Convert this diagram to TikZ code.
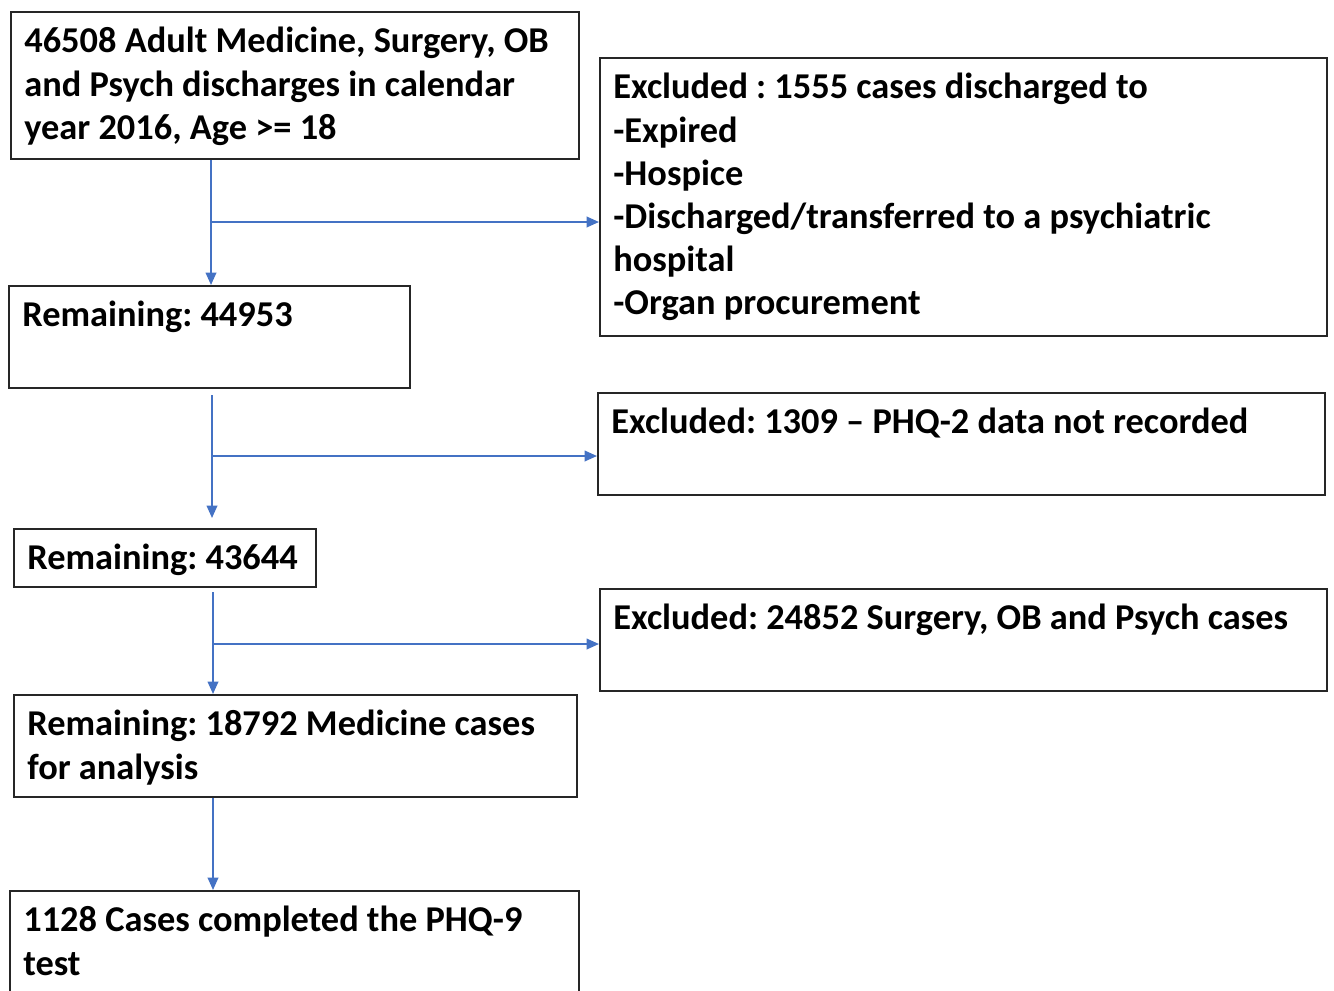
\documentclass[tikz,border=0pt]{standalone}
\usepackage{fontspec}
\setmainfont{Carlito}
\usetikzlibrary{arrows.meta}

\definecolor{flowblue}{RGB}{68,114,196}
\tikzset{
  flowbox/.style={draw=black!85, line width=1.3pt, anchor=north west, inner sep=0pt},
  boxtext/.style={anchor=north west, align=left, inner sep=0pt, font=\fontsize{20.7}{24.6}\selectfont\bfseries\frenchspacing},
  flow/.style={draw=flowblue, line width=1pt, -{Triangle[length=7pt,width=6pt]}},
}

\begin{document}
\begin{tikzpicture}[x=0.02cm, y=-0.02cm]
\useasboundingbox (0,0) rectangle (1334,990);
\clip (0,0) rectangle (1334,990);

% Main column
\node[flowbox, minimum width=11.36cm, minimum height=2.94cm] (top) at (10,11) {};
\node[boxtext] (topT) at ([shift={(14,16)}]top.north west)
  {46508 Adult Medicine, Surgery, OB\\and Psych discharges in calendar\\year 2016, Age >= 18};

\node[flowbox, minimum width=8.02cm, minimum height=2.04cm] (rem1) at (8,285) {};
\node[boxtext] (rem1T) at ([shift={(14,16)}]rem1.north west) {Remaining: 44953};

\node[flowbox, minimum width=6.04cm, minimum height=1.16cm] (rem2) at (13,528) {};
\node[boxtext] (rem2T) at ([shift={(14,16)}]rem2.north west) {Remaining: 43644};

\node[flowbox, minimum width=11.26cm, minimum height=2.04cm] (rem3) at (13,694) {};
\node[boxtext] (rem3T) at ([shift={(14,16)}]rem3.north west)
  {Remaining: 18792 Medicine cases\\for analysis};

\node[flowbox, minimum width=11.38cm, minimum height=2.4cm] (final) at (9,890) {};
\node[boxtext] (finalT) at ([shift={(14,16)}]final.north west)
  {1128 Cases completed the PHQ-9\\test};

% Exclusions
\node[flowbox, minimum width=14.54cm, minimum height=5.56cm] (excl1) at (599,57) {};
\node[boxtext] (excl1T) at ([shift={(14,16)}]excl1.north west)
  {Excluded : 1555 cases discharged to\\-Expired\\-Hospice\\-Discharged/transferred to a psychiatric\\hospital\\-Organ procurement};

\node[flowbox, minimum width=14.54cm, minimum height=2.04cm] (excl2) at (597,392) {};
\node[boxtext] (excl2T) at ([shift={(14,16)}]excl2.north west)
  {Excluded: 1309 – PHQ-2 data not recorded};

\node[flowbox, minimum width=14.54cm, minimum height=2.04cm] (excl3) at (599,588) {};
\node[boxtext] (excl3T) at ([shift={(14,16)}]excl3.north west)
  {Excluded: 24852 Surgery, OB and Psych cases};

% Arrows
\coordinate (j1) at (211,222);
\draw[flow] (top.south -| j1) -- (rem1.north -| j1);
\draw[flow] (j1) -- (j1 -| excl1.west);

\coordinate (j2) at (212,456);
\draw[flow, shorten <=0.12cm, shorten >=0.2cm] (rem1.south -| j2) -- (rem2.north -| j2);
\draw[flow] (j2) -- (j2 -| excl2.west);

\coordinate (j3) at (213,644);
\draw[flow, shorten <=0.08cm] (rem2.south -| j3) -- (rem3.north -| j3);
\draw[flow] (j3) -- (j3 -| excl3.west);

\coordinate (j4) at (213,840);
\draw[flow] (rem3.south -| j4) -- (final.north -| j4);
\end{tikzpicture}
\end{document}
